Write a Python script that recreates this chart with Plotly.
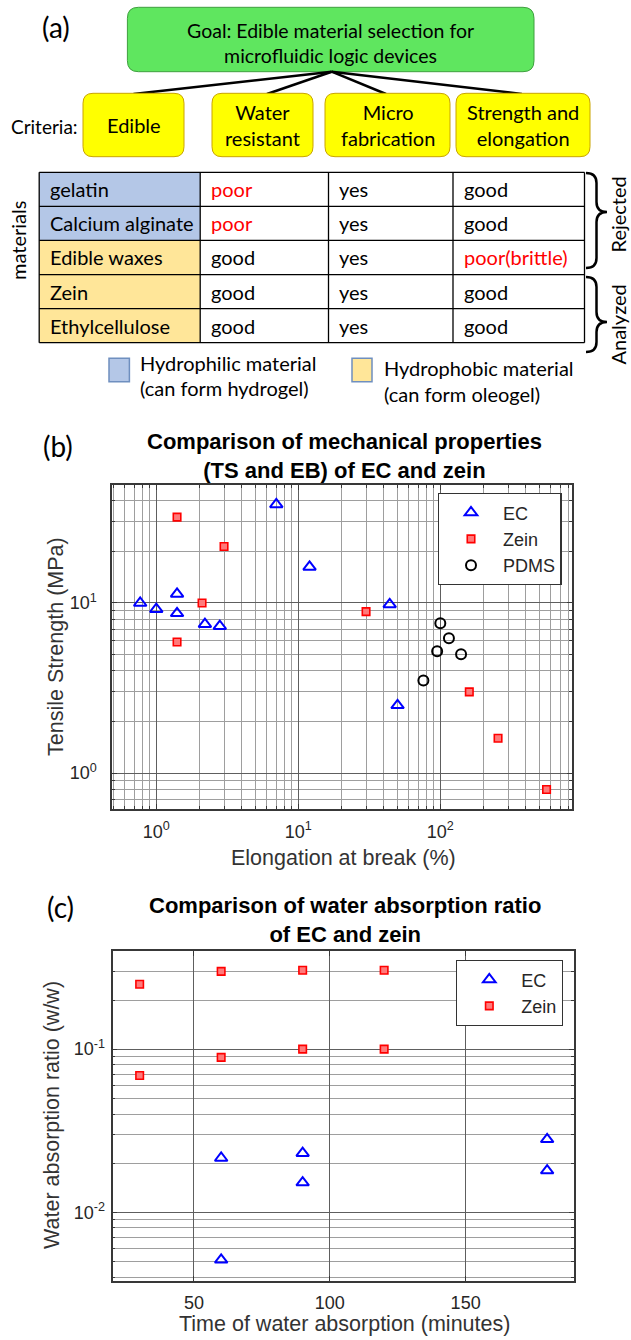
import math
import plotly.graph_objects as go

# ---------------- data ----------------
goal_text = "Goal: Edible material selection for<br>microfluidic logic devices"
criteria = ["Edible", "Water<br>resistant", "Micro<br>fabrication", "Strength and<br>elongation"]
materials = ["gelatin", "Calcium alginate", "Edible waxes", "Zein", "Ethylcellulose"]
material_type = ["hydrophilic", "hydrophilic", "hydrophobic", "hydrophobic", "hydrophobic"]
water_resistant = ["poor", "poor", "good", "good", "good"]
micro_fabrication = ["yes", "yes", "yes", "yes", "yes"]
strength_elongation = ["good", "good", "poor(brittle)", "good", "good"]

# (b) tensile strength vs elongation at break
ec_eb = [0.77, 1.0, 1.4, 1.4, 2.2, 2.8, 7.0, 12, 44, 50]
ec_ts = [10, 9.2, 11.3, 8.7, 7.5, 7.3, 38, 16.3, 9.8, 2.5]
zein_eb = [1.4, 3.0, 2.1, 1.4, 30, 160, 255, 560]
zein_ts = [32, 21.5, 10, 5.9, 8.9, 3.0, 1.6, 0.8]
pdms_eb = [100, 115, 95, 140, 76]
pdms_ts = [7.6, 6.2, 5.2, 5.0, 3.5]
b_xtick_vals = [1, 10, 100]
b_xtick_text = ["10<sup>0</sup>", "10<sup>1</sup>", "10<sup>2</sup>"]
b_ytick_vals = [1, 10]
b_ytick_text = ["10<sup>0</sup>", "10<sup>1</sup>"]

# (c) water absorption ratio vs time
ec_time = [60, 60, 90, 90, 180, 180]
ec_ratio = [0.0215, 0.0051, 0.023, 0.0152, 0.028, 0.018]
zein_time = [30, 30, 60, 60, 90, 90, 120, 120]
zein_ratio = [0.25, 0.069, 0.30, 0.089, 0.305, 0.10, 0.305, 0.10]
c_xtick_vals = [50, 100, 150]
c_ytick_vals = [0.01, 0.1]
c_ytick_text = ["10<sup>-2</sup>", "10<sup>-1</sup>"]

# ---------------- layout helpers ----------------
W, H = 631, 1340


def X(p):
    return p / W


def Y(p):
    return 1 - p / H


LATO = "Lato"
ARIAL = "Liberation Sans"
shapes = []
annotations = []


def ann(text, x, y, size, family=LATO, color="black", xanchor="center",
        yanchor="middle", angle=0):
    annotations.append(dict(text=text, x=X(x), y=Y(y), xref="paper", yref="paper",
                            xanchor=xanchor, yanchor=yanchor, showarrow=False,
                            textangle=angle,
                            font=dict(family=family, size=size, color=color)))


def rrect(x0, y0, x1, y1, r, fill, line, lw=1):
    p = (f"M {X(x0 + r)},{Y(y0)} L {X(x1 - r)},{Y(y0)} Q {X(x1)},{Y(y0)} {X(x1)},{Y(y0 + r)} "
         f"L {X(x1)},{Y(y1 - r)} Q {X(x1)},{Y(y1)} {X(x1 - r)},{Y(y1)} "
         f"L {X(x0 + r)},{Y(y1)} Q {X(x0)},{Y(y1)} {X(x0)},{Y(y1 - r)} "
         f"L {X(x0)},{Y(y0 + r)} Q {X(x0)},{Y(y0)} {X(x0 + r)},{Y(y0)} Z")
    shapes.append(dict(type="path", path=p, xref="paper", yref="paper",
                       fillcolor=fill, line=dict(color=line, width=lw)))


def rect(x0, y0, x1, y1, fill, line, lw=1):
    shapes.append(dict(type="rect", x0=X(x0), x1=X(x1), y0=Y(y1), y1=Y(y0),
                       xref="paper", yref="paper", fillcolor=fill,
                       line=dict(color=line, width=lw)))


def seg(x0, y0, x1, y1, color="black", lw=1.5):
    shapes.append(dict(type="line", x0=X(x0), y0=Y(y0), x1=X(x1), y1=Y(y1),
                       xref="paper", yref="paper", line=dict(color=color, width=lw)))


def brace(x0, y0, y1, ym, w, r, lw=2.5):
    xm = x0 + w / 2
    p = (f"M {X(x0)},{Y(y0)} Q {X(xm)},{Y(y0)} {X(xm)},{Y(y0 + r)} "
         f"L {X(xm)},{Y(ym - r)} Q {X(xm)},{Y(ym)} {X(x0 + w)},{Y(ym)} "
         f"Q {X(xm)},{Y(ym)} {X(xm)},{Y(ym + r)} L {X(xm)},{Y(y1 - r)} "
         f"Q {X(xm)},{Y(y1)} {X(x0)},{Y(y1)}")
    shapes.append(dict(type="path", path=p, xref="paper", yref="paper",
                       line=dict(color="black", width=lw)))


# ---------------- panel (a) ----------------
ann("(a)", 56, 27, 28)
rrect(127.4, 7.3, 534, 71.7, 11, "#5fe65f", "#3f9f3f", 1)
ann(goal_text, 330.7, 42.5, 19.5)

box_x = [(83, 184), (212, 313), (325, 450), (456, 590)]
hub = (331.7, 71.7)
for (bx0, bx1), tx in zip(box_x, [133.5, 267, 386, 521.8]):
    seg(hub[0], hub[1], tx, 94, "black", 2.5)
for (bx0, bx1), label in zip(box_x, criteria):
    rrect(bx0, 93.3, bx1, 156.7, 10, "#ffff00", "#c9a400", 1)
    ann(label, (bx0 + bx1) / 2, 125.5, 20)
ann("Criteria:", 44.5, 126.7, 19)

# table
col_edges = [39.2, 200.2, 328.5, 453, 584.5]
row_top, row_h = 172.3, 34.08
type_fill = {"hydrophilic": "#b4c7e7", "hydrophobic": "#ffe699"}
for i, (m, t) in enumerate(zip(materials, material_type)):
    y0 = row_top + i * row_h
    rect(col_edges[0], y0, col_edges[1], y0 + row_h, type_fill[t], "rgba(0,0,0,0)", 0)
columns = [materials, water_resistant, micro_fabrication, strength_elongation]
for c, col in enumerate(columns):
    for i, v in enumerate(col):
        yc = row_top + (i + 0.5) * row_h
        color = "#ff0000" if v.startswith("poor") else "black"
        ann(v, col_edges[c] + 8.5, yc, 20, color=color, xanchor="left")
for i in range(len(materials) + 1):
    y = row_top + i * row_h
    seg(col_edges[0], y, col_edges[-1], y, "black", 1.3)
for x in col_edges:
    seg(x, row_top, x, row_top + len(materials) * row_h, "black", 1.3)

ann("materials", 18, 241, 20, angle=-90)
brace(586, 173, 268, 212, 21, 10)
brace(586, 277, 352, 322, 21, 10)
ann("Rejected", 617.5, 215, 20, angle=-90)
ann("Analyzed", 617.5, 325, 20, angle=-90)

# material legend
rect(109, 358.3, 129.4, 381.7, "#b4c7e7", "#6f8fbf", 1.5)
ann("Hydrophilic material", 137.5, 363.3, 20, xanchor="left")
ann("(can form hydrogel)", 138, 388, 20, xanchor="left")
rect(352, 358.3, 372, 381.7, "#ffe699", "#6f8fbf", 1.5)
ann("Hydrophobic material", 382.3, 368.3, 20, xanchor="left")
ann("(can form oleogel)", 382.3, 394, 20, xanchor="left")

# ---------------- panel (b) / (c) text ----------------
TITLE_FONT = 22
AX_FONT = 21.5
ann("(b)", 58, 446, 28)
ann("<b>Comparison of mechanical properties<br>(TS and EB) of EC and zein</b>",
    344, 455.5, TITLE_FONT, family=ARIAL)
ann("Tensile Strength (MPa)", 56, 647, AX_FONT, family=ARIAL, color="#333333", angle=-90)
ann("Elongation at break (%)", 343, 858, AX_FONT, family=ARIAL, color="#333333")

ann("(c)", 60, 907, 28)
ann("<b>Comparison of water absorption ratio<br>of EC and zein</b>",
    345, 920, TITLE_FONT, family=ARIAL)
ann("Water absorption ratio (w/w)", 52, 1115, AX_FONT, family=ARIAL, color="#333333", angle=-90)
ann("Time of water absorption (minutes)", 344, 1324, AX_FONT, family=ARIAL, color="#333333")

# ---------------- traces ----------------
fig = go.Figure()
ec_marker = dict(symbol="triangle-up-open", size=11, color="#0000ff",
                 line=dict(width=2, color="#0000ff"))
zein_marker = dict(symbol="square", size=7.5, color="#ff7a7a",
                   line=dict(width=1.6, color="#ff0000"))
pdms_marker = dict(symbol="circle-open", size=10, color="black",
                   line=dict(width=2, color="black"))

fig.add_trace(go.Scatter(x=ec_eb, y=ec_ts, mode="markers", name="EC", marker=ec_marker,
                         xaxis="x", yaxis="y", legend="legend"))
fig.add_trace(go.Scatter(x=zein_eb, y=zein_ts, mode="markers", name="Zein", marker=zein_marker,
                         xaxis="x", yaxis="y", legend="legend"))
fig.add_trace(go.Scatter(x=pdms_eb, y=pdms_ts, mode="markers", name="PDMS", marker=pdms_marker,
                         xaxis="x", yaxis="y", legend="legend"))
fig.add_trace(go.Scatter(x=ec_time, y=ec_ratio, mode="markers", name="EC", marker=ec_marker,
                         xaxis="x2", yaxis="y2", legend="legend2"))
fig.add_trace(go.Scatter(x=zein_time, y=zein_ratio, mode="markers", name="Zein", marker=zein_marker,
                         xaxis="x2", yaxis="y2", legend="legend2"))

tickfont = dict(family=ARIAL, size=18, color="#262626")
common = dict(showline=True, linecolor="#383838", linewidth=1.8, mirror="allticks",
              ticks="inside", ticklen=5, tickcolor="#383838", tickwidth=1,
              showgrid=True, gridcolor="#5e5e5e", gridwidth=1, zeroline=False,
              tickfont=tickfont, tickmode="array")
minor_log = dict(dtick="D1", showgrid=True, gridcolor="#9e9e9e", gridwidth=1,
                 ticks="inside", ticklen=3, tickcolor="#383838")

legend_common = dict(xanchor="left", yanchor="top", bgcolor="white", bordercolor="#333333",
                     borderwidth=1.3, font=dict(family=ARIAL, size=18, color="#262626"),
                     itemwidth=54, tracegroupgap=0)

fig.update_layout(
    width=W, height=H, margin=dict(l=0, r=0, t=0, b=0),
    paper_bgcolor="white", plot_bgcolor="white", showlegend=True,
    xaxis=dict(type="log", domain=[X(112.3), X(572.3)],
               range=[math.log10(0.49), math.log10(850)], anchor="y",
               tickvals=b_xtick_vals, ticktext=b_xtick_text, minor=minor_log,
               ticklabelstandoff=5, **common),
    yaxis=dict(type="log", domain=[Y(809.3), Y(485)], range=[-0.2135, 1.694], anchor="x",
               tickvals=b_ytick_vals, ticktext=b_ytick_text, minor=minor_log,
               ticklabelstandoff=10, **common),
    xaxis2=dict(type="linear", domain=[X(112.5), X(574.3)], range=[20, 190], anchor="y2",
                tickvals=c_xtick_vals, ticktext=[str(v) for v in c_xtick_vals],
                ticklabelstandoff=5, **common),
    yaxis2=dict(type="log", domain=[Y(1280.7), Y(951)],
                range=[math.log10(0.0038), math.log10(0.4)], anchor="x2",
                tickvals=c_ytick_vals, ticktext=c_ytick_text, minor=minor_log,
                ticklabelstandoff=2, **common),
    legend=dict(x=X(437.7), y=Y(493), **legend_common),
    legend2=dict(x=X(456), y=Y(960), **legend_common),
    shapes=shapes, annotations=annotations,
)

fig.write_html("out.html", config={"displayModeBar": False},
               post_script="document.body.style.margin='0px';")
